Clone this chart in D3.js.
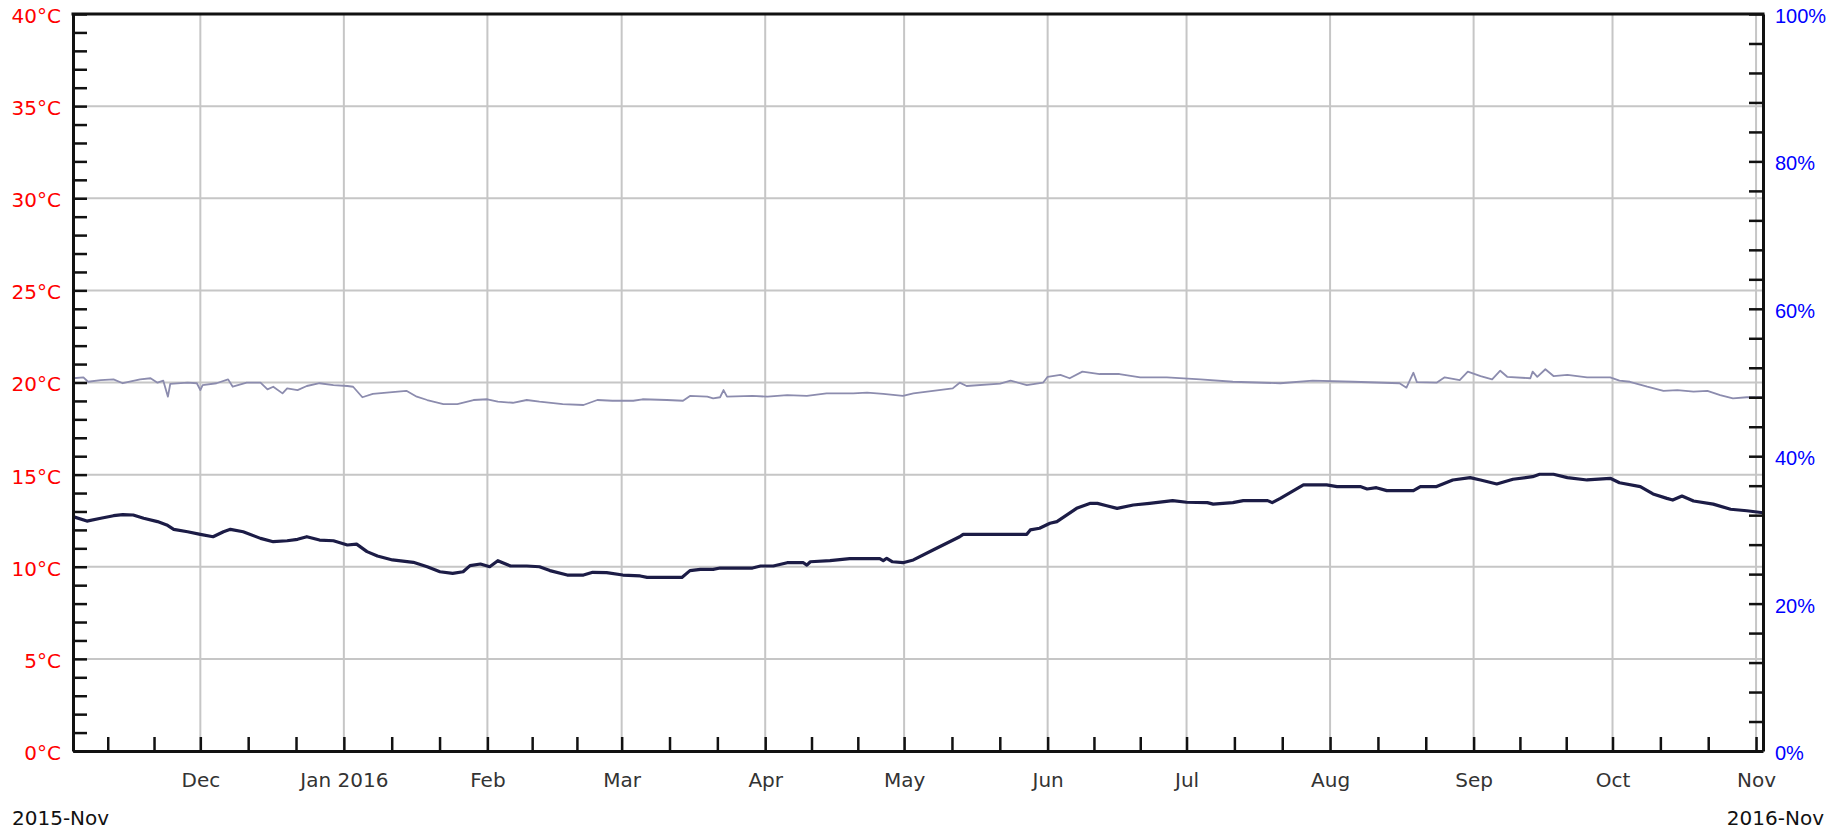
<!DOCTYPE html>
<html>
<head>
<meta charset="utf-8">
<script src="https://cdn.jsdelivr.net/npm/d3@7/dist/d3.min.js"></script>
<style>
  html, body { margin: 0; padding: 0; background: #fff; }
  svg { display: block; }
</style>
</head>
<body>
<svg width="1842" height="832"></svg>
<script>
// reading dates: 'YYYY-MM-DD HH' (UTC)
const range = ['2015-11-03 12', '2016-11-02 12']

const monthTicks = ['2015-12-01 00', '2016-01-01 00', '2016-02-01 00', '2016-03-01 00', '2016-04-01 00', '2016-05-01 00',
  '2016-06-01 00', '2016-07-01 00', '2016-08-01 00', '2016-09-01 00', '2016-10-01 00', '2016-11-01 00']
const monthLabels = ['Dec', 'Jan 2016', 'Feb', 'Mar', 'Apr', 'May', 'Jun', 'Jul', 'Aug', 'Sep', 'Oct', 'Nov']

const tempTicks = [0, 5, 10, 15, 20, 25, 30, 35, 40]
const tempLabels = ['0°C', '5°C', '10°C', '15°C', '20°C', '25°C', '30°C', '35°C', '40°C']
const humTicks = [0, 20, 40, 60, 80, 100]
const humLabels = ['0%', '20%', '40%', '60%', '80%', '100%']
const cornerLabels = ['2015-Nov', '2016-Nov']

// dark series (°C)
const tempDates = ['2015-11-03 12', '2015-11-06 12', '2015-11-09 12', '2015-11-12 06', '2015-11-14 06', '2015-11-16 12',
  '2015-11-18 18', '2015-11-21 18', '2015-11-23 18', '2015-11-25 06', '2015-11-28 06', '2015-12-01 00', '2015-12-03 18',
  '2015-12-06 00', '2015-12-07 12', '2015-12-10 06', '2015-12-14 00', '2015-12-16 18', '2015-12-19 18', '2015-12-22 00',
  '2015-12-24 00', '2015-12-26 18', '2015-12-29 18', '2016-01-01 18', '2016-01-03 18', '2016-01-06 00', '2016-01-08 06',
  '2016-01-11 12', '2016-01-16 00', '2016-01-19 00', '2016-01-21 18', '2016-01-24 12', '2016-01-26 18', '2016-01-28 06',
  '2016-01-30 12', '2016-02-01 12', '2016-02-03 06', '2016-02-06 00', '2016-02-09 12', '2016-02-12 06', '2016-02-14 12',
  '2016-02-18 06', '2016-02-21 18', '2016-02-23 18', '2016-02-26 18', '2016-03-01 06', '2016-03-05 00', '2016-03-06 12',
  '2016-03-14 00', '2016-03-15 18', '2016-03-18 00', '2016-03-20 18', '2016-03-22 06', '2016-03-29 06', '2016-03-31 00',
  '2016-04-02 18', '2016-04-05 18', '2016-04-09 06', '2016-04-10 00', '2016-04-10 18', '2016-04-15 00', '2016-04-19 06',
  '2016-04-25 18', '2016-04-26 12', '2016-04-27 06', '2016-04-28 12', '2016-04-30 18', '2016-05-03 00', '2016-05-07 06',
  '2016-05-13 00', '2016-05-13 18', '2016-05-27 12', '2016-05-28 06', '2016-05-30 06', '2016-06-01 12', '2016-06-03 00',
  '2016-06-07 06', '2016-06-10 06', '2016-06-11 18', '2016-06-13 18', '2016-06-16 00', '2016-06-19 12', '2016-06-23 00',
  '2016-06-28 00', '2016-07-01 00', '2016-07-05 12', '2016-07-06 18', '2016-07-11 00', '2016-07-13 06', '2016-07-18 12',
  '2016-07-19 12', '2016-07-21 06', '2016-07-26 06', '2016-07-31 06', '2016-08-02 12', '2016-08-07 12', '2016-08-09 00',
  '2016-08-11 00', '2016-08-13 06', '2016-08-19 00', '2016-08-20 12', '2016-08-24 00', '2016-08-27 12', '2016-08-31 06',
  '2016-09-02 12', '2016-09-06 00', '2016-09-09 12', '2016-09-13 18', '2016-09-15 06', '2016-09-18 06', '2016-09-21 06',
  '2016-09-25 12', '2016-09-30 12', '2016-10-02 12', '2016-10-07 00', '2016-10-09 18', '2016-10-12 18', '2016-10-14 00',
  '2016-10-16 00', '2016-10-18 12', '2016-10-22 18', '2016-10-26 12', '2016-10-30 00', '2016-11-02 12']
const tempValues = [12.72, 12.48, 12.63, 12.77, 12.83, 12.81,
  12.63, 12.45, 12.27, 12.03, 11.90, 11.76, 11.63,
  11.90, 12.03, 11.90, 11.54, 11.36, 11.41, 11.49,
  11.63, 11.45, 11.41, 11.18, 11.23, 10.82, 10.58,
  10.37, 10.24, 10.00, 9.73, 9.64, 9.73, 10.06,
  10.15, 10.00, 10.33, 10.04, 10.04, 10.00, 9.79,
  9.55, 9.55, 9.70, 9.68, 9.55, 9.50, 9.42,
  9.42, 9.79, 9.86, 9.86, 9.93, 9.93, 10.04,
  10.04, 10.22, 10.22, 10.09, 10.27, 10.33, 10.44,
  10.44, 10.33, 10.46, 10.27, 10.22, 10.37, 10.91,
  11.63, 11.76, 11.76, 12.00, 12.09, 12.36, 12.45,
  13.17, 13.44, 13.44, 13.31, 13.17, 13.35, 13.44,
  13.59, 13.50, 13.48, 13.40, 13.48, 13.59, 13.59,
  13.48, 13.71, 14.44, 14.44, 14.35, 14.35, 14.22,
  14.29, 14.13, 14.13, 14.35, 14.35, 14.71, 14.84,
  14.71, 14.49, 14.75, 14.89, 15.02, 15.02, 14.84,
  14.71, 14.80, 14.56, 14.35, 13.95, 13.71, 13.62,
  13.84, 13.57, 13.40, 13.12, 13.04, 12.93]

// light series (°C)
const innerDates = ['2015-11-03 12', '2015-11-05 18', '2015-11-06 18', '2015-11-09 12', '2015-11-12 06', '2015-11-14 06',
  '2015-11-18 00', '2015-11-20 06', '2015-11-21 18', '2015-11-23 00', '2015-11-24 00', '2015-11-24 12', '2015-11-28 06',
  '2015-11-30 06', '2015-12-01 00', '2015-12-01 12', '2015-12-04 12', '2015-12-07 00', '2015-12-08 00', '2015-12-11 00',
  '2015-12-14 00', '2015-12-15 12', '2015-12-16 18', '2015-12-18 18', '2015-12-19 18', '2015-12-22 00', '2015-12-24 00',
  '2015-12-26 18', '2015-12-29 18', '2016-01-01 18', '2016-01-03 00', '2016-01-05 00', '2016-01-07 06', '2016-01-10 06',
  '2016-01-14 12', '2016-01-16 18', '2016-01-19 00', '2016-01-22 12', '2016-01-25 12', '2016-01-29 00', '2016-02-01 00',
  '2016-02-03 06', '2016-02-06 12', '2016-02-09 12', '2016-02-12 06', '2016-02-17 06', '2016-02-21 18', '2016-02-24 18',
  '2016-02-28 00', '2016-03-03 12', '2016-03-05 12', '2016-03-10 18', '2016-03-14 06', '2016-03-15 18', '2016-03-19 12',
  '2016-03-20 18', '2016-03-22 06', '2016-03-23 00', '2016-03-23 18', '2016-03-29 06', '2016-04-01 12', '2016-04-05 18',
  '2016-04-10 00', '2016-04-14 06', '2016-04-20 00', '2016-04-23 00', '2016-04-26 12', '2016-04-30 18', '2016-05-03 00',
  '2016-05-11 12', '2016-05-13 00', '2016-05-14 12', '2016-05-21 18', '2016-05-24 00', '2016-05-27 12', '2016-05-31 00',
  '2016-06-01 00', '2016-06-03 18', '2016-06-05 18', '2016-06-08 12', '2016-06-12 06', '2016-06-16 12', '2016-06-21 00',
  '2016-06-26 18', '2016-07-04 00', '2016-07-11 00', '2016-07-21 06', '2016-07-28 06', '2016-08-06 00', '2016-08-16 00',
  '2016-08-17 12', '2016-08-19 00', '2016-08-19 18', '2016-08-24 00', '2016-08-25 18', '2016-08-29 00', '2016-08-30 18',
  '2016-09-02 12', '2016-09-05 00', '2016-09-06 18', '2016-09-08 06', '2016-09-13 06', '2016-09-13 18', '2016-09-14 18',
  '2016-09-16 12', '2016-09-18 06', '2016-09-21 06', '2016-09-25 12', '2016-09-30 12', '2016-10-02 12', '2016-10-04 18',
  '2016-10-08 12', '2016-10-12 00', '2016-10-15 00', '2016-10-18 12', '2016-10-21 12', '2016-10-24 06', '2016-10-27 00',
  '2016-10-30 00', '2016-11-02 12']
const innerValues = [20.23, 20.28, 20.04, 20.13, 20.17, 19.96,
  20.17, 20.23, 19.99, 20.10, 19.23, 19.92, 19.99,
  19.96, 19.59, 19.86, 19.96, 20.17, 19.77, 19.99,
  19.99, 19.63, 19.77, 19.41, 19.68, 19.59, 19.81,
  19.96, 19.86, 19.81, 19.77, 19.20, 19.38, 19.45,
  19.55, 19.23, 19.05, 18.83, 18.83, 19.05, 19.09,
  18.96, 18.90, 19.05, 18.96, 18.83, 18.78, 19.05,
  19.01, 19.01, 19.09, 19.05, 19.01, 19.27, 19.23,
  19.14, 19.20, 19.59, 19.23, 19.27, 19.23, 19.32,
  19.27, 19.41, 19.41, 19.45, 19.38, 19.27, 19.41,
  19.68, 19.99, 19.81, 19.94, 20.10, 19.86, 19.99,
  20.31, 20.41, 20.23, 20.59, 20.46, 20.46, 20.28,
  20.28, 20.17, 20.04, 19.96, 20.10, 20.04, 19.96,
  19.72, 20.53, 20.02, 19.99, 20.28, 20.13, 20.59,
  20.35, 20.17, 20.64, 20.31, 20.23, 20.59, 20.31,
  20.72, 20.35, 20.41, 20.28, 20.28, 20.10, 20.04,
  19.77, 19.55, 19.59, 19.50, 19.55, 19.32, 19.14,
  19.20, 19.20]

const parse = d3.utcParse('%Y-%m-%d %H')

const svg = d3.select('svg')
const width = +svg.attr('width')
const height = +svg.attr('height')
const margin = { top: 14, right: 79, bottom: 81, left: 73 }
const plotLeft = margin.left
const plotRight = width - margin.right
const plotTop = margin.top
const plotBottom = height - margin.bottom

const x = d3.scaleUtc().domain(range.map(parse)).range([plotLeft, plotRight])
const yT = d3.scaleLinear().domain([0, 40]).range([plotBottom, plotTop])
const yH = d3.scaleLinear().domain([0, 100]).range([plotBottom, plotTop])

const months = monthTicks.map(parse)
const labelOf = new Map(months.map((m, i) => [+m, monthLabels[i]]))

// every month split in thirds for the minor ticks
const [x0, x1] = x.domain()
const minor = []
d3.utcMonth.range(d3.utcMonth.floor(x0), x1).forEach((m) => {
  const len = d3.utcMonth.offset(m, 1) - m
  ;[0, 1, 2].forEach((k) => {
    const t = new Date(+m + (len * k) / 3)
    if (t >= x0 && t <= x1) minor.push(t)
  })
})

// grid
const grid = svg.append('g').attr('stroke', '#c6c6c6').attr('stroke-width', 2)
grid.selectAll('.vg')
  .data(months)
  .join('line')
  .attr('x1', (d) => x(d))
  .attr('x2', (d) => x(d))
  .attr('y1', plotTop)
  .attr('y2', plotBottom)
grid.selectAll('.hg')
  .data(tempTicks.filter((d) => d > 0 && d < 40))
  .join('line')
  .attr('x1', plotLeft)
  .attr('x2', plotRight)
  .attr('y1', (d) => yT(d))
  .attr('y2', (d) => yT(d))

// series
const line = (dates, values) =>
  d3.line()
    .x((d, i) => x(parse(dates[i])))
    .y((d) => yT(d))(values)

svg.append('path')
  .attr('fill', 'none')
  .attr('stroke', '#8c8cae')
  .attr('stroke-width', 1.8)
  .attr('stroke-linejoin', 'round')
  .attr('d', line(innerDates, innerValues))

svg.append('path')
  .attr('fill', 'none')
  .attr('stroke', '#1c1c46')
  .attr('stroke-width', 3.2)
  .attr('stroke-linejoin', 'round')
  .attr('d', line(tempDates, tempValues))

// axes
const styleAxis = (g, color, family) => {
  g.select('.domain').attr('stroke', '#111').attr('stroke-width', 3)
  g.selectAll('.tick line').attr('stroke', '#111').attr('stroke-width', 2.5)
  g.selectAll('.tick text').attr('fill', color).style('font-family', family).style('font-size', '20px')
}

svg.append('g')
  .attr('transform', `translate(0,${plotBottom})`)
  .call(d3.axisBottom(x)
    .tickValues(minor)
    .tickSize(-14)
    .tickSizeOuter(0)
    .tickPadding(22)
    .tickFormat((d) => labelOf.get(+d) || ''))
  .call((g) => styleAxis(g, '#333', 'DejaVu Sans'))

svg.append('g')
  .attr('transform', `translate(${plotLeft},0)`)
  .call(d3.axisLeft(yT)
    .tickValues(d3.range(0, 41, 1))
    .tickSize(-14)
    .tickSizeOuter(0)
    .tickPadding(12)
    .tickFormat((d) => tempLabels[tempTicks.indexOf(d)] || ''))
  .call((g) => styleAxis(g, '#ff0000', 'DejaVu Sans'))
  .call((g) => g.selectAll('.tick text').attr('dy', '0.42em'))

svg.append('g')
  .attr('transform', `translate(${plotRight},0)`)
  .call(d3.axisRight(yH)
    .tickValues(d3.range(0, 101, 4))
    .tickSize(-14)
    .tickSizeOuter(0)
    .tickPadding(12)
    .tickFormat((d) => humLabels[humTicks.indexOf(d)] || ''))
  .call((g) => styleAxis(g, '#0000ff', 'Liberation Sans'))
  .call((g) => g.selectAll('.tick text').attr('dy', '0.42em'))

// top frame
svg.append('line')
  .attr('x1', plotLeft - 1.5)
  .attr('x2', plotRight + 1.5)
  .attr('y1', yT(40))
  .attr('y2', yT(40))
  .attr('stroke', '#111')
  .attr('stroke-width', 3)

// period labels
svg.selectAll('.corner')
  .data(cornerLabels)
  .join('text')
  .attr('x', (d, i) => (i ? width - 18 : 12))
  .attr('y', height - 7)
  .attr('text-anchor', (d, i) => (i ? 'end' : 'start'))
  .attr('fill', '#111')
  .style('font-family', 'DejaVu Sans')
  .style('font-size', '20px')
  .text((d) => d)
</script>
</body>
</html>
